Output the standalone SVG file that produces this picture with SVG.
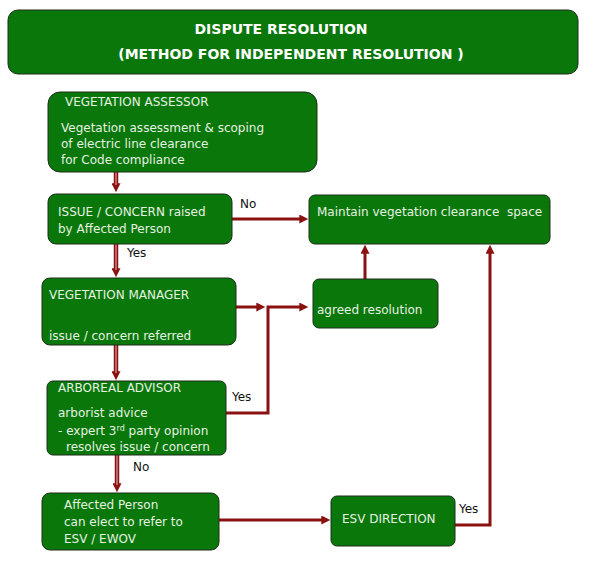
<svg xmlns="http://www.w3.org/2000/svg" width="596" height="581" viewBox="0 0 596 581">
<defs>
<style>
.box{fill:#0a770a;stroke:#1c2e1c;stroke-width:1}
.t{font-family:"DejaVu Sans",Verdana,sans-serif;font-size:12px;fill:#e6f2e2}
.title{font-family:"DejaVu Sans",Verdana,sans-serif;font-size:14px;font-weight:bold;fill:#ffffff;text-anchor:middle}
.lbl{font-family:"DejaVu Sans",Verdana,sans-serif;font-size:12px;fill:#111111}
.c{fill:none;stroke:#8b1111;stroke-width:3}
.d{fill:none;stroke:#8b1111;stroke-width:4.5}
.di{fill:none;stroke:#d9a0a0;stroke-width:1.2}
</style>
<marker id="ah" viewBox="0 0 10 10" refX="3" refY="5" markerWidth="10" markerHeight="9" markerUnits="userSpaceOnUse" orient="auto">
<path d="M0,0 L10,5 L0,10 z" fill="#8b1111"/>
</marker>
</defs>
<rect width="596" height="581" fill="#ffffff"/>

<g id="connectors">
<path class="d" d="M116,172 V186" marker-end="url(#ah)"/>
<path class="di" d="M116,172 V185"/>
<path class="c" d="M232,219 H302" marker-end="url(#ah)"/>
<path class="d" d="M116,244 V271" marker-end="url(#ah)"/>
<path class="di" d="M116,244 V270"/>
<path class="d" d="M116,345 V374" marker-end="url(#ah)"/>
<path class="di" d="M116,345 V373"/>
<path class="d" d="M117,455 V486" marker-end="url(#ah)"/>
<path class="di" d="M117,455 V485"/>
<path class="c" d="M236,307 H259" marker-end="url(#ah)"/>
<path class="c" d="M226,413 H268 V307 H302" marker-end="url(#ah)"/>
<path class="c" d="M365,279 V251" marker-end="url(#ah)"/>
<path class="c" d="M219,520 H324" marker-end="url(#ah)"/>
<path class="c" d="M455,525 H490 V251" marker-end="url(#ah)"/>
<text class="lbl" x="240" y="208">No</text>
<text class="lbl" x="127" y="257">Yes</text>
<text class="lbl" x="232" y="401">Yes</text>
<text class="lbl" x="133" y="471">No</text>
<text class="lbl" x="459" y="513">Yes</text>
</g>

<g id="title">
<rect class="box" x="8" y="10" width="570" height="64" rx="10"/>
<text class="title" x="281" y="34">DISPUTE RESOLUTION</text>
<text class="title" x="291" y="59">(METHOD FOR INDEPENDENT RESOLUTION )</text>
</g>

<g id="vegetation-assessor">
<rect class="box" x="48" y="92" width="269" height="80" rx="12"/>
<text class="t" x="65" y="106">VEGETATION ASSESSOR</text>
<text class="t" x="61" y="132">Vegetation assessment &amp; scoping</text>
<text class="t" x="61" y="148">of electric line clearance</text>
<text class="t" x="61" y="164">for Code compliance</text>
</g>

<g id="issue-concern">
<rect class="box" x="48" y="194" width="184" height="50" rx="8"/>
<text class="t" x="58" y="216">ISSUE / CONCERN raised</text>
<text class="t" x="58" y="233">by Affected Person</text>
</g>

<g id="maintain">
<rect class="box" x="309" y="195" width="241" height="49" rx="6"/>
<text class="t" x="317" y="216" xml:space="preserve">Maintain vegetation clearance  space</text>
</g>

<g id="agreed-resolution">
<rect class="box" x="313" y="279" width="125" height="49" rx="6"/>
<text class="t" x="317" y="314">agreed resolution</text>
</g>

<g id="vegetation-manager">
<rect class="box" x="42" y="278" width="194" height="67" rx="8"/>
<text class="t" x="49" y="299">VEGETATION MANAGER</text>
<text class="t" x="49" y="340">issue / concern referred</text>
</g>

<g id="arboreal-advisor">
<rect class="box" x="47" y="381" width="179" height="74" rx="6"/>
<text class="t" x="58" y="392">ARBOREAL ADVISOR</text>
<text class="t" x="58" y="417">arborist advice</text>
<text class="t" x="58" y="435">- expert 3<tspan font-size="8" dy="-4">rd</tspan><tspan dy="4"> party opinion</tspan></text>
<text class="t" x="66" y="451">resolves issue / concern</text>
</g>

<g id="affected-person">
<rect class="box" x="42" y="493" width="177" height="57" rx="8"/>
<text class="t" x="64" y="509">Affected Person</text>
<text class="t" x="64" y="526">can elect to refer to</text>
<text class="t" x="64" y="543">ESV / EWOV</text>
</g>

<g id="esv-direction">
<rect class="box" x="331" y="496" width="124" height="50" rx="6"/>
<text class="t" x="342" y="523">ESV DIRECTION</text>
</g>
</svg>
